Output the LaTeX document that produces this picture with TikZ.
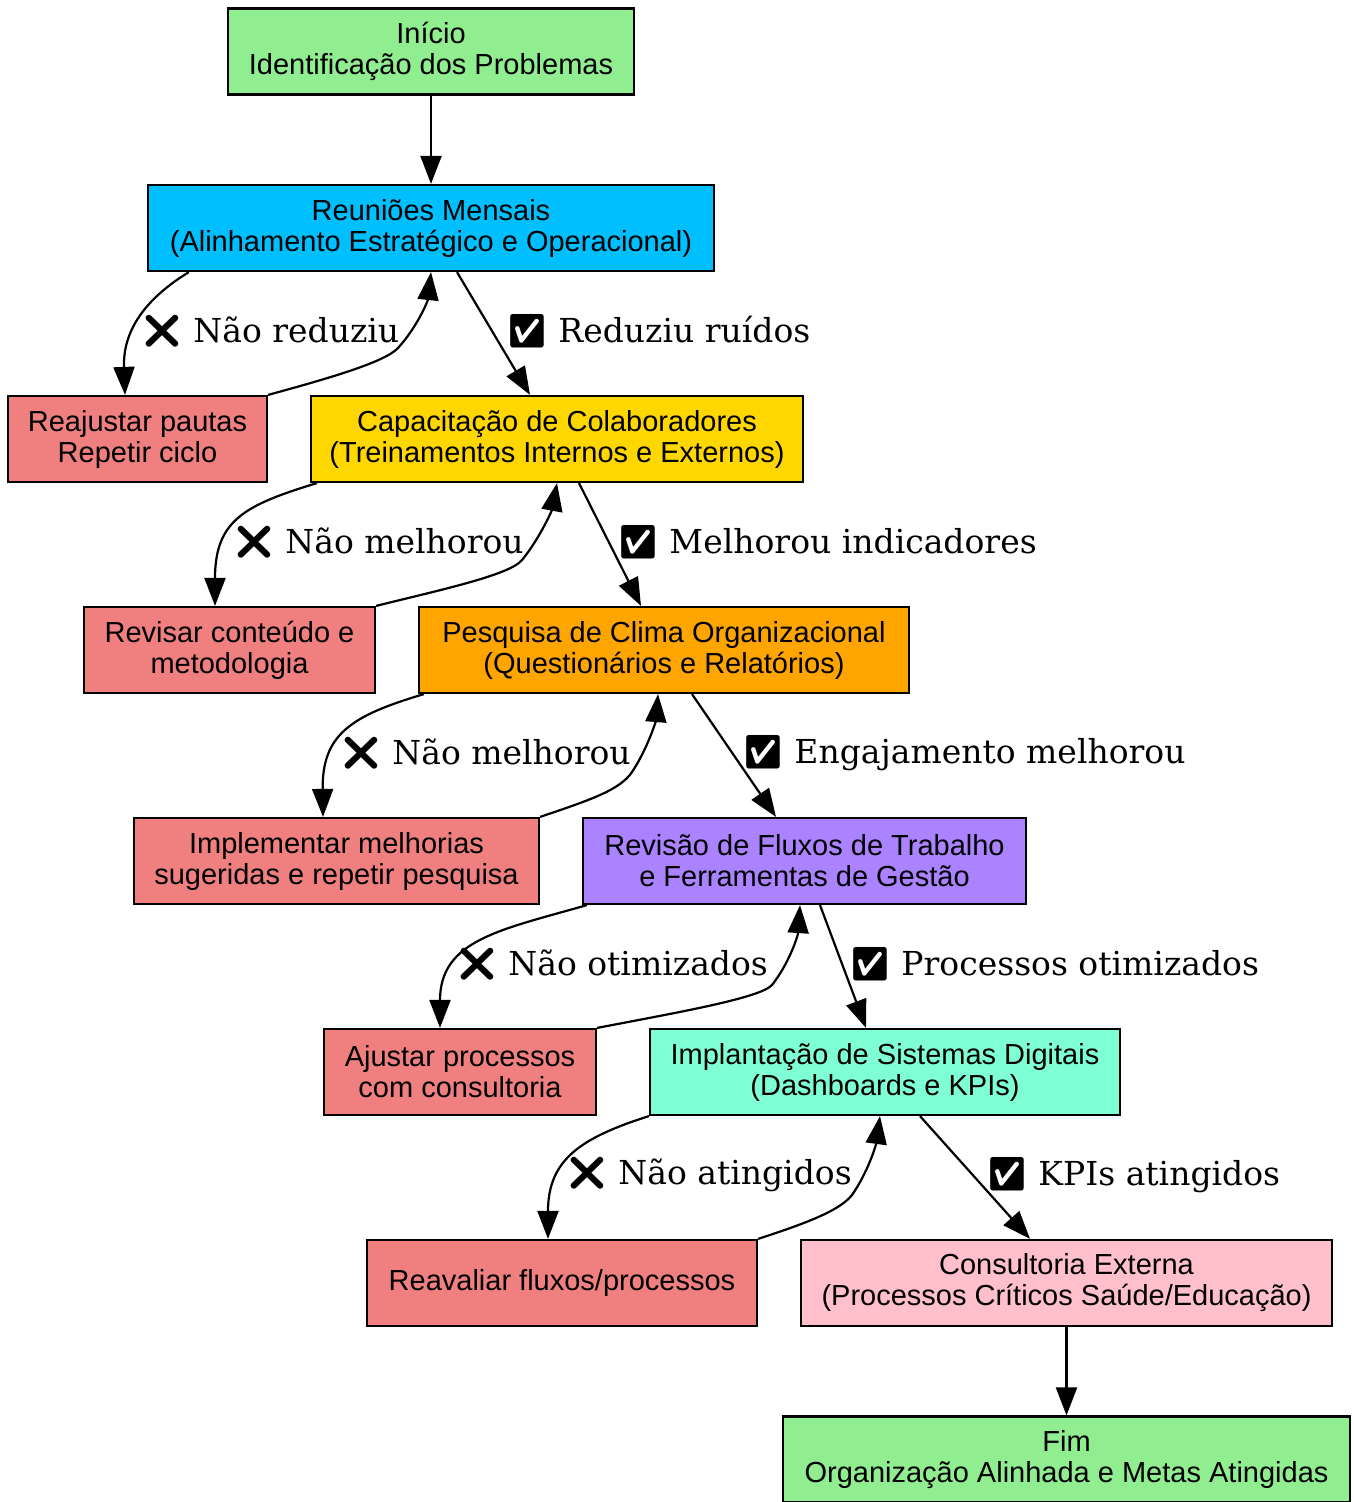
\documentclass[tikz,border=0pt]{standalone}
\usepackage{fontspec}
\setmainfont{Liberation Sans}
\newfontfamily\lblfont{DejaVu Serif}
\newfontfamily\emo{Noto Emoji}
\usetikzlibrary{arrows.meta,positioning,calc}

\definecolor{lgreen}{HTML}{90EE90}
\definecolor{skyblue}{HTML}{00BFFF}
\definecolor{lcoral}{HTML}{F08080}
\definecolor{goldc}{HTML}{FFD700}
\definecolor{orangec}{HTML}{FFA500}
\definecolor{mpurple}{HTML}{AB82FF}
\definecolor{aquam}{HTML}{7FFFD4}
\definecolor{pinkc}{HTML}{FFC0CB}

\newcommand{\marcanao}{{\emo ❌}}
\newcommand{\marcasim}{{\emo ✅}}

\begin{document}
\begin{tikzpicture}[
    x=1pt, y=-1pt,
    box/.style={rectangle, draw, line width=2.2pt, fill=#1, minimum height=86pt, align=center, inner sep=0pt, font=\fontsize{29}{31}\selectfont},
    lbl/.style={anchor=west, inner sep=0pt, font=\lblfont\fontsize{33}{36}\selectfont},
    >={Triangle[length=28pt,width=21pt]},
    every path/.style={line width=2.2pt}
]
    \useasboundingbox (0,0) rectangle (1354,1502);

    \node[box=lgreen, minimum width=406pt] (inicio) at (431,51.5) {Início\\Identificação dos Problemas};
    \node[box=skyblue, minimum width=566pt] (reun) at (431,228) {Reuniões Mensais\\(Alinhamento Estratégico e Operacional)};
    \node[box=lcoral, minimum width=259pt] (reaj) at (137.5,439) {Reajustar pautas\\Repetir ciclo};
    \node[box=goldc, minimum width=492pt] (capac) at (557,439) {Capacitação de Colaboradores\\(Treinamentos Internos e Externos)};
    \node[box=lcoral, minimum width=291pt] (revis) at (229.5,650) {Revisar conteúdo e\\metodologia};
    \node[box=orangec, minimum width=490pt] (pesq) at (664,650) {Pesquisa de Clima Organizacional\\(Questionários e Relatórios)};
    \node[box=lcoral, minimum width=405pt] (implem) at (336.5,861) {Implementar melhorias\\sugeridas e repetir pesquisa};
    \node[box=mpurple, minimum width=443pt] (fluxos) at (804.5,861) {Revisão de Fluxos de Trabalho\\e Ferramentas de Gestão};
    \node[box=lcoral, minimum width=272pt] (ajust) at (460,1072) {Ajustar processos\\com consultoria};
    \node[box=aquam, minimum width=470pt] (sist) at (885,1072) {Implantação de Sistemas Digitais\\(Dashboards e KPIs)};
    \node[box=lcoral, minimum width=390pt] (reav) at (562,1283) {Reavaliar fluxos/processos};
    \node[box=pinkc, minimum width=531pt] (consult) at (1066.5,1283) {Consultoria Externa\\(Processos Críticos Saúde/Educação)};
    \node[box=lgreen, minimum width=567pt] (fim) at (1066.5,1459.5) {Fim\\Organização Alinhada e Metas Atingidas};

    % rotulos das arestas
    \node[lbl] (l1n) at (140,331) {\marcanao{} Não reduziu};
    \node[lbl] (l1s) at (505,331) {\marcasim{} Reduziu ruídos};
    \node[lbl] (l2n) at (232,542) {\marcanao{} Não melhorou};
    \node[lbl] (l2s) at (616,542) {\marcasim{} Melhorou indicadores};
    \node[lbl] (l3n) at (339,753) {\marcanao{} Não melhorou};
    \node[lbl] (l3s) at (741,753) {\marcasim{} Engajamento melhorou};
    \node[lbl] (l4n) at (455,964) {\marcanao{} Não otimizados};
    \node[lbl] (l4s) at (848,964) {\marcasim{} Processos otimizados};
    \node[lbl] (l5n) at (565,1175) {\marcanao{} Não atingidos};
    \node[lbl] (l5s) at (985,1175) {\marcasim{} KPIs atingidos};

    \draw[->] (inicio) -- (reun);

    % ciclo 1
    \draw[->] ([xshift=42pt]reun.south west) .. controls (135,305) and (123,340) .. ([xshift=-12.5pt]reaj.north);
    \draw[->] (reaj.north east) .. controls (330,378) and (385,362) .. (398,348) .. controls (418,326) and (428,300) .. (reun.south);
    \draw[->] ([xshift=26pt]reun.south) -- ([xshift=-27pt]capac.north);

    % ciclo 2
    \draw[->] ([xshift=7pt]capac.south west) .. controls (245,505) and (215,520) .. ([xshift=-14.5pt]revis.north);
    \draw[->] (revis.north east) .. controls (440,590) and (510,575) .. (522,560) .. controls (540,538) and (552,510) .. (capac.south);
    \draw[->] ([xshift=22pt]capac.south) -- ([xshift=-23pt]pesq.north);

    % ciclo 3
    \draw[->] ([xshift=6pt]pesq.south west) .. controls (350,716) and (322,735) .. ([xshift=-13.5pt]implem.north);
    \draw[->] (implem.north east) .. controls (590,800) and (620,790) .. (632,772) .. controls (648,748) and (656,720) .. ([xshift=-6pt]pesq.south);
    \draw[->] ([xshift=28pt]pesq.south) -- ([xshift=-28.5pt]fluxos.north);

    % ciclo 4
    \draw[->] ([xshift=5pt]fluxos.south west) .. controls (500,930) and (440,940) .. ([xshift=-20pt]ajust.north);
    \draw[->] (ajust.north east) .. controls (680,1012) and (760,998) .. (772,985) .. controls (790,962) and (798,935) .. ([xshift=-4.5pt]fluxos.south);
    \draw[->] ([xshift=15.5pt]fluxos.south) -- ([xshift=-19pt]sist.north);

    % ciclo 5
    \draw[->] (sist.south west) .. controls (580,1138) and (548,1160) .. ([xshift=-14pt]reav.north);
    \draw[->] (reav.north east) .. controls (810,1222) and (840,1210) .. (852,1195) .. controls (868,1172) and (876,1145) .. ([xshift=-5pt]sist.south);
    \draw[->] ([xshift=35pt]sist.south) -- ([xshift=-36.5pt]consult.north);

    \draw[->] (consult) -- (fim);
\end{tikzpicture}
\end{document}
